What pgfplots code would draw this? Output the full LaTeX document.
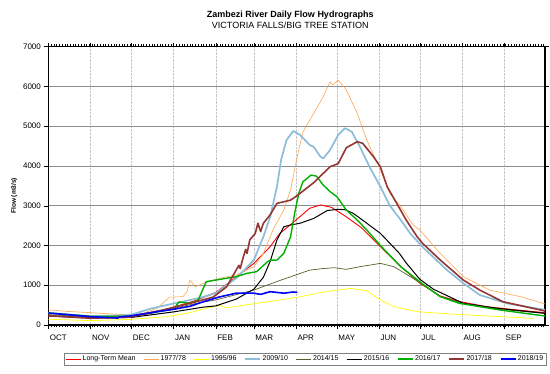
\documentclass[border=0pt]{standalone}
\usepackage{pgfplots}
\pgfplotsset{compat=1.18}
\usepackage{fontspec}
\setmainfont{Liberation Sans}
\definecolor{cLTM}{RGB}{255,0,0}
\definecolor{c7778}{RGB}{255,165,80}
\definecolor{c9596}{RGB}{255,255,0}
\definecolor{c0910}{RGB}{140,190,215}
\definecolor{c1415}{RGB}{79,98,40}
\definecolor{c1516}{RGB}{0,0,0}
\definecolor{c1617}{RGB}{0,176,0}
\definecolor{c1718}{RGB}{148,54,52}
\definecolor{c1819}{RGB}{0,0,255}
\begin{document}
\begin{tikzpicture}
\path[use as bounding box] (-48.4pt,-49pt) rectangle (501.6pt,325pt);
\begin{axis}[
  scale only axis, width=496.6pt, height=278.3pt,
  xmin=0, xmax=365, ymin=0, ymax=7000,
  xtick={0,31,61,92,123,151,182,212,243,273,304,335},
  xticklabels={OCT,NOV,DEC,JAN,FEB,MAR,APR,MAY,JUN,JUL,AUG,SEP},
  minor xtick={0,2,...,364},
  ytick={0,1000,...,7000},
  tick align=outside, major tick length=4pt, minor tick length=2.5pt,
  xticklabel style={anchor=north west, xshift=-2pt, yshift=-2pt},
  tick label style={font=\fontsize{8}{9}\selectfont},
  /pgf/number format/assume math mode=true,
  /pgf/number format/set thousands separator={},
  xmajorgrids, ymajorgrids,
  x grid style={gray!45, densely dotted, line width=0.4pt},
  y grid style={gray!90, line width=0.5pt},
  axis line style={line width=1.2pt},
  tick style={black, line width=0.4pt},
  title={\textbf{Zambezi River Daily Flow Hydrographs}\\VICTORIA FALLS/BIG TREE STATION},
  title style={font=\fontsize{9}{10.5}\selectfont, align=center, at={(axis description cs:0.487,1)}, anchor=south, yshift=9pt},
  ylabel={Flow (m3/s)},
  ylabel style={font=\bfseries\fontsize{6.5}{7}\selectfont, at={(axis description cs:-0.069,0.464)}, anchor=center},
  legend columns=9,
  legend style={at={(axis description cs:0.0314,-0.1006)}, anchor=north west, draw=gray, line width=0.5pt,
    font=\fontsize{7}{8}\selectfont, inner sep=1pt,
    /tikz/every even column/.append style={column sep=6.5pt},
    nodes={inner sep=1.5pt}},
  legend image code/.code={\draw[#1] (0pt,0pt) -- (15pt,0pt);},
  line join=round,
]
\addplot[cLTM, line width=0.9pt] coordinates {(0,230)(15,205)(31,185)(45,180)(61,210)(75,290)(92,450)(107,600)(123,820)(136,1150)(151,1550)(163,1970)(170,2300)(182,2640)(192,2935)(200,3020)(208,2960)(219,2720)(230,2450)(244,1970)(259,1470)(273,1050)(288,730)(302,590)(322,460)(344,380)(365,310)};
\addlegendentry{Long-Term Mean}
\addplot[c7778, line width=0.6pt] coordinates {(0,380)(15,340)(31,310)(45,280)(60,250)(70,300)(80,420)(89,700)(99,712)(102,850)(104,1130)(108,963)(114,1050)(126,1175)(138,1258)(151,1466)(158,1800)(165,2390)(173,2890)(178,3400)(183,4250)(187,4850)(195,5325)(202,5740)(207,6120)(209,6040)(213,6160)(219,5910)(227,5325)(234,4650)(244,3900)(251,3310)(259,2975)(268,2520)(273,2390)(288,1800)(305,1215)(324,880)(347,712)(365,530)};
\addlegendentry{1977/78}
\addplot[c9596, line width=0.7pt] coordinates {(0,145)(31,110)(60,140)(87,210)(104,310)(116,420)(126,490)(131,430)(153,545)(178,670)(185,710)(192,755)(197,800)(210,870)(222,920)(234,860)(244,630)(254,460)(271,335)(295,277)(332,210)(357,165)};
\addlegendentry{1995/96}
\addplot[c0910, line width=1.7pt] coordinates {(0,310)(31,220)(60,250)(75,410)(92,540)(111,680)(123,800)(138,1175)(151,1630)(158,2220)(163,2720)(168,3480)(171,4150)(175,4650)(180,4880)(185,4780)(192,4530)(195,4480)(200,4230)(202,4190)(207,4400)(213,4780)(218,4950)(223,4860)(229,4480)(236,3980)(244,3480)(251,3000)(259,2640)(266,2300)(276,1930)(293,1380)(305,1050)(317,755)(337,545)(365,380)};
\addlegendentry{2009/10}
\addplot[c1415, line width=0.7pt] coordinates {(0,260)(31,200)(61,230)(92,420)(111,560)(123,630)(151,880)(171,1130)(182,1260)(192,1380)(202,1420)(210,1440)(219,1400)(229,1466)(244,1550)(254,1466)(266,1215)(276,1006)(288,720)(305,540)(330,400)(365,290)};
\addlegendentry{2014/15}
\addplot[c1516, line width=1.0pt] coordinates {(0,230)(31,175)(61,190)(92,330)(114,450)(123,480)(138,650)(151,900)(158,1200)(163,1600)(168,2140)(173,2470)(178,2515)(185,2560)(195,2680)(205,2880)(213,2910)(218,2900)(224,2810)(234,2560)(244,2305)(251,2055)(258,1800)(263,1560)(273,1150)(283,900)(305,545)(330,420)(365,294)};
\addlegendentry{2015/16}
\addplot[c1617, line width=1.4pt] coordinates {(0,300)(31,220)(61,220)(80,330)(92,400)(96,580)(100,560)(104,545)(110,620)(116,1090)(123,1130)(138,1215)(146,1300)(153,1340)(161,1590)(163,1630)(168,1634)(173,1800)(178,2220)(181,2810)(184,3310)(187,3600)(193,3770)(197,3745)(202,3520)(207,3355)(212,3230)(219,2890)(227,2640)(234,2390)(244,2000)(251,1750)(259,1466)(276,1006)(288,712)(302,545)(332,377)(365,226)};
\addlegendentry{2016/17}
\addplot[c1718, line width=1.6pt] coordinates {(0,230)(31,170)(60,200)(87,400)(104,545)(121,700)(131,960)(138,1380)(140,1500)(141,1420)(143,1680)(145,1900)(146,1800)(148,2140)(152,2300)(154,2560)(156,2350)(158,2560)(163,2770)(168,3060)(173,3100)(178,3140)(183,3260)(195,3580)(207,3980)(213,4060)(219,4460)(227,4610)(231,4570)(239,4230)(244,3980)(249,3480)(256,3060)(263,2640)(271,2220)(275,2055)(288,1634)(305,1130)(317,880)(334,586)(365,352)};
\addlegendentry{2017/18}
\addplot[c1819, line width=1.6pt] coordinates {(0,300)(31,210)(51,175)(52,200)(60,226)(80,335)(92,395)(104,470)(114,586)(125,700)(138,800)(151,800)(156,770)(163,838)(173,800)(180,830)(183,820)};
\addlegendentry{2018/19}
\end{axis}
\end{tikzpicture}
\end{document}
